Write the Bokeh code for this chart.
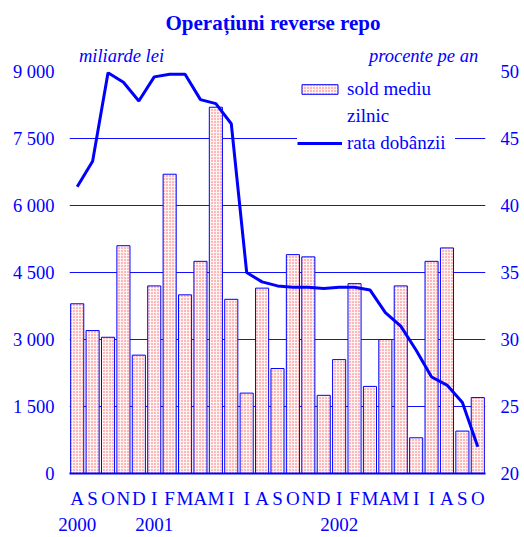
from bokeh.plotting import figure
from bokeh.models import (LinearAxis, Range1d, FixedTicker, Legend, LegendItem, ColumnDataSource)
from bokeh.embed import file_html
from bokeh.resources import INLINE

months = ["A", "S", "O", "N", "D", "I", "F", "M", "A", "M", "I", "I", "A", "S",
          "O", "N", "D", "I", "F", "M", "A", "M", "I", "I", "A", "S", "O"]
year_labels = ["2000", "2001", "2002"]
year_index = [0, 5, 17]
sold = [3800, 3200, 3050, 5100, 2650, 4200, 6700, 4000, 4750, 8200, 3900, 1800, 4150, 2350,
        4900, 4850, 1750, 2550, 4250, 1950, 3000, 4200, 800, 4750, 5050, 950, 1700]
rata = [41.4, 43.3, 49.9, 49.2, 47.8, 49.6, 49.8, 49.8, 47.9, 47.6, 46.1, 35.0, 34.3, 34.0,
        33.9, 33.9, 33.8, 33.9, 33.9, 33.7, 32.0, 31.0, 29.2, 27.2, 26.6, 25.3, 22.0]
left_ticks = [0, 1500, 3000, 4500, 6000, 7500, 9000]
right_ticks = [20, 25, 30, 35, 40, 45, 50]
unit_labels = ["miliarde lei", "procente pe an"]
unit_pos = [3.375, 22.98]

BLUE = "#0000ff"
FONT = "Liberation Serif"

n = len(months)
xs = [i + 0.5 for i in range(n)]
src = ColumnDataSource(dict(x=xs, sold=sold, rata=rata))

p = figure(width=524, height=537, output_backend="svg", toolbar_location=None,
           x_range=Range1d(0, n), y_range=Range1d(0, 9000),
           min_border_left=69, min_border_right=39, min_border_top=71, min_border_bottom=64,
           title="Operațiuni reverse repo")
p.extra_y_ranges = {"r": Range1d(20, 50)}
p.outline_line_color = None
p.background_fill_color = "white"
p.border_fill_color = "white"

p.title.align = "left"
p.title.offset = 96
p.title.text_font = FONT
p.title.text_font_size = "21px"
p.title.text_font_style = "bold"
p.title.text_color = BLUE
p.title.standoff = 15


def style_axis(ax, size, standoff):
    ax.axis_line_color = None
    ax.major_tick_line_color = None
    ax.minor_tick_line_color = None
    ax.major_tick_out = 0
    ax.major_tick_in = 0
    ax.major_label_standoff = standoff
    ax.major_label_text_font = FONT
    ax.major_label_text_font_size = size
    ax.major_label_text_color = BLUE


xa = p.below[0]
ya = p.left[0]

# grid
p.xgrid.visible = False
p.ygrid.ticker = FixedTicker(ticks=left_ticks)
p.ygrid.grid_line_color = "#1010ff"
p.ygrid.grid_line_width = 1

# left axis
ya.ticker = FixedTicker(ticks=left_ticks)
ya.major_label_overrides = {v: f"{v:,}".replace(",", " ") for v in left_ticks}
style_axis(ya, "18.5px", 15)

# right axis
ra = LinearAxis(y_range_name="r", ticker=FixedTicker(ticks=right_ticks))
style_axis(ra, "18.5px", 15)
p.add_layout(ra, "right")

# bottom axis: months
xa.ticker = FixedTicker(ticks=xs)
xa.major_label_overrides = {x: m for x, m in zip(xs, months)}
style_axis(xa, "19px", 14)
xa.axis_line_color = BLUE
xa.axis_line_width = 2

# bottom axis: years
ypos = [xs[i] for i in year_index]
ya2 = LinearAxis(ticker=FixedTicker(ticks=ypos))
ya2.major_label_overrides = {x: y for x, y in zip(ypos, year_labels)}
style_axis(ya2, "19px", 6)
p.add_layout(ya2, "below")

# top axis carrying the unit texts
ua = LinearAxis(ticker=FixedTicker(ticks=unit_pos))
ua.major_label_overrides = {x: t for x, t in zip(unit_pos, unit_labels)}
style_axis(ua, "18.5px", 6)
ua.major_label_text_font_style = "italic"
p.add_layout(ua, "above")

# bars
bars = p.vbar(x="x", top="sold", width=0.85, bottom=0, source=src,
              fill_color="#fff4f4", line_color=BLUE, line_width=1,
              hatch_pattern="dot", hatch_color="#ff4040", hatch_scale=3, hatch_weight=1,
              hatch_alpha=0.85)

# line
line = p.line(x="x", y="rata", source=src, y_range_name="r",
              line_color=BLUE, line_width=3)

dummy = p.line(x=[], y=[], line_alpha=0)

legend = Legend(items=[
    LegendItem(label="sold mediu", renderers=[bars]),
    LegendItem(label="zilnic", renderers=[dummy]),
    LegendItem(label="rata dobânzii", renderers=[line]),
], location=(228, 318))
legend.border_line_color = None
legend.background_fill_color = "white"
legend.background_fill_alpha = 1
legend.padding = 5
legend.spacing = 3
legend.glyph_width = 45
legend.glyph_height = 12
legend.label_height = 24
legend.label_width = 108
legend.label_standoff = 5
legend.label_text_font = FONT
legend.label_text_font_size = "19px"
legend.label_text_color = BLUE
legend.label_text_baseline = "middle"
p.add_layout(legend)

open("out.html", "w").write(file_html(p, INLINE))
